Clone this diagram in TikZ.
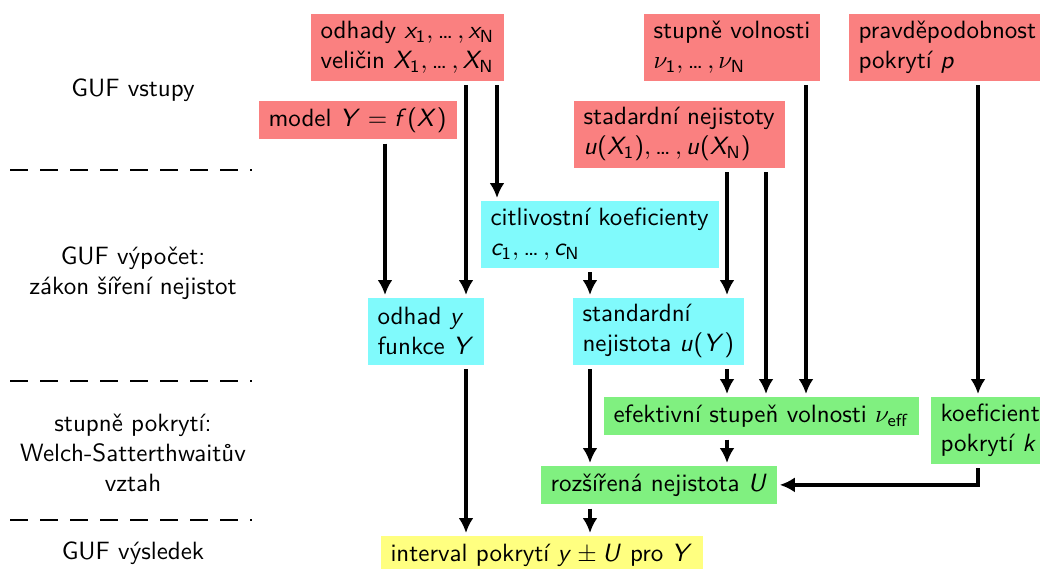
\documentclass[tikz,border=0pt]{standalone}
\usetikzlibrary{arrows.meta}

\DeclareSymbolFont{sfit}{OT1}{cmss}{m}{sl}
\DeclareSymbolFont{sfup}{OT1}{cmss}{m}{n}
\DeclareMathSymbol{x}{\mathalpha}{sfit}{`x}
\DeclareMathSymbol{X}{\mathalpha}{sfit}{`X}
\DeclareMathSymbol{Y}{\mathalpha}{sfit}{`Y}
\DeclareMathSymbol{f}{\mathalpha}{sfit}{`f}
\DeclareMathSymbol{u}{\mathalpha}{sfit}{`u}
\DeclareMathSymbol{c}{\mathalpha}{sfit}{`c}
\DeclareMathSymbol{y}{\mathalpha}{sfit}{`y}
\DeclareMathSymbol{p}{\mathalpha}{sfit}{`p}
\DeclareMathSymbol{k}{\mathalpha}{sfit}{`k}
\DeclareMathSymbol{U}{\mathalpha}{sfit}{`U}
\DeclareMathSymbol{1}{\mathalpha}{sfup}{`1}
\DeclareMathSymbol{(}{\mathopen}{sfup}{`(}
\DeclareMathSymbol{)}{\mathclose}{sfup}{`)}
\DeclareMathSymbol{=}{\mathrel}{sfup}{`=}
\newcommand{\tecky}{\mbox{…}\,}

\definecolor{vstupbarva}{RGB}{250,128,128}
\definecolor{vypocetbarva}{RGB}{128,250,252}
\definecolor{welchbarva}{RGB}{128,240,128}
\definecolor{vysledekbarva}{RGB}{255,255,128}

\begin{document}
\begin{tikzpicture}[x=0.4pt,y=-0.4pt,
  box/.style={anchor=north west, align=left, inner xsep=4pt, inner ysep=1.8pt,
    minimum height=15.5pt, font=\sffamily},
  dva/.style={minimum height=27pt},
  vstup/.style={box, fill=vstupbarva},
  vypocet/.style={box, fill=vypocetbarva},
  welch/.style={box, fill=welchbarva},
  vysledek/.style={box, fill=vysledekbarva},
  sipka/.style={line width=1.3pt, -{Latex[length=6pt,width=6pt]}, shorten <=1.5pt, shorten >=0.8pt},
  oddel/.style={line width=1pt, dash pattern=on 7pt off 5pt},
  popis/.style={align=center, font=\sffamily}]
\clip (0,0) rectangle (1040,568);

\node[popis] (l1) at (133,90) {GUF vstupy};
\node[popis] (l2) at (133,273) {GUF výpočet:\\zákon šíření nejistot};
\node[popis] (l3) at (133,453) {stupně pokrytí:\\Welch-Satterthwaitův\\vztah};
\node[popis] (l4) at (133,553) {GUF výsledek};
\foreach \y in {170,381,520}
  \draw[oddel] (10,\y) -- (252,\y);

\node[vstup,dva] (odhady) at (310,13) {odhady $x_1, \tecky, x_\mathsf{N}$\\veličin $X_1, \tecky, X_\mathsf{N}$};
\node[vstup] (model) at (258,100) {model $Y = f(X)$};
\node[vstup,dva] (volnost) at (643,13) {stupně volnosti\\$\nu_1, \tecky, \nu_\mathsf{N}$};
\node[vstup,dva] (pravd) at (848,13) {pravděpodobnost\\pokrytí $p$};
\node[vstup,dva] (nejist) at (573,100) {stadardní nejistoty\\$u(X_1), \tecky, u(X_\mathsf{N})$};

\node[vypocet,dva] (citliv) at (480,200) {citlivostní koeficienty\\$c_1, \tecky, c_\mathsf{N}$};
\node[vypocet,dva] (odhadY) at (367,297) {odhad $y$\\funkce $Y$};
\node[vypocet,dva] (stdU) at (572,297) {standardní\\nejistota $u(Y)$};

\node[welch] (efekt) at (603,396) {efektivní stupeň volnosti $\nu_\mathsf{eff}$};
\node[welch,dva] (koef) at (930,396) {koeficient\\pokrytí $k$};
\node[welch] (rozs) at (540,465) {rozšířená nejistota $U$};

\node[vysledek] (interval) at (380,535) {interval pokrytí $y \pm U$ pro $Y$};

\foreach \n/\x in {a/385, b/466, c/497, d/590, e/727, f/766, g/806, h/978}
  \coordinate (s\n) at (\x,0);

\draw[sipka] (model.south -| sa) -- (odhadY.north -| sa);
\draw[sipka] (odhady.south -| sb) -- (odhadY.north -| sb);
\draw[sipka] (odhady.south -| sc) -- (citliv.north -| sc);
\draw[sipka] (citliv.south -| sd) -- (stdU.north -| sd);
\draw[sipka] (nejist.south -| se) -- (stdU.north -| se);
\draw[sipka] (nejist.south -| sf) -- (efekt.north -| sf);
\draw[sipka] (volnost.south -| sg) -- (efekt.north -| sg);
\draw[sipka] (pravd.south -| sh) -- (koef.north -| sh);
\draw[sipka] (stdU.south -| se) -- (efekt.north -| se);
\draw[sipka] (stdU.south -| sd) -- (rozs.north -| sd);
\draw[sipka] (efekt.south -| se) -- (rozs.north -| se);
\draw[sipka] (koef.south -| sh) |- (rozs.east);
\draw[sipka] (odhadY.south -| sb) -- (interval.north -| sb);
\draw[sipka] (rozs.south -| sd) -- (interval.north -| sd);
\end{tikzpicture}
\end{document}
